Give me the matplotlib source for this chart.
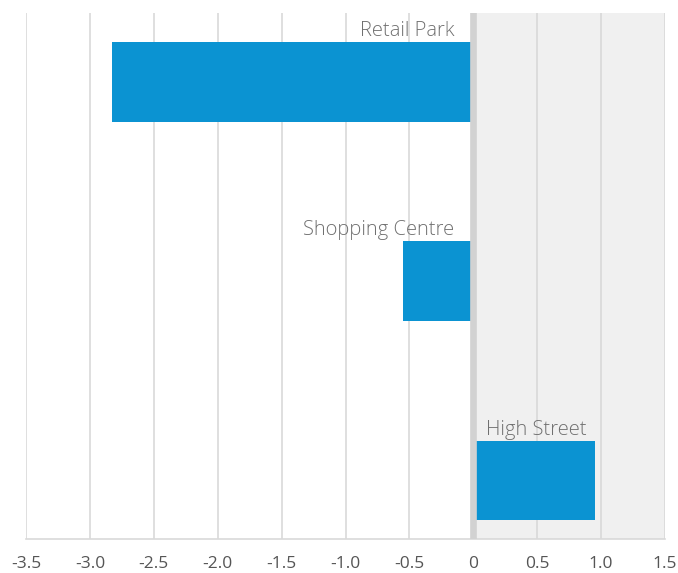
import matplotlib.pyplot as plt

# data
categories = ["Retail Park", "Shopping Centre", "High Street"]
values = [-2.83, -0.55, 0.95]
xticks = [-3.5, -3.0, -2.5, -2.0, -1.5, -1.0, -0.5, 0, 0.5, 1.0, 1.5]
xtick_labels = ["-3.5", "-3.0", "-2.5", "-2.0", "-1.5", "-1.0", "-0.5", "0", "0.5", "1.0", "1.5"]

plt.rcParams['font.family'] = ['Open Sans', 'DejaVu Sans']

fig = plt.figure(figsize=(6.78, 5.73), dpi=100)
ax = fig.add_axes([26 / 678, 34 / 573, 639 / 678, 526 / 573])

pos = list(range(len(categories)))
ax.axvspan(0, 1.5, color='#f0f0f0', zorder=0, lw=0)
ax.barh(pos, values, height=0.4, color='#0b93d2', zorder=2)
ax.axvline(0, color='#d2d2d2', lw=4.8, zorder=3)

for p, v, name in zip(pos, values, categories):
    top = p - 0.2
    if v < 0:
        ax.annotate(name, (0, top), xytext=(-19, 6), textcoords='offset pixels',
                    ha='right', va='baseline', fontsize=14.5, color='#707070',
                    fontweight='light')
    else:
        ax.annotate(name, (0, top), xytext=(13, 6), textcoords='offset pixels',
                    ha='left', va='baseline', fontsize=14.5, color='#707070',
                    fontweight='light')

ax.set_xlim(-3.5, 1.5)
ax.set_ylim(2.294, -0.347)
ax.set_xticks(xticks)
ax.set_xticklabels(xtick_labels, fontsize=12.5, color='#555555')
ax.set_yticks([])
ax.tick_params(axis='x', length=0, pad=12.5)
ax.grid(axis='x', color='#d9d9d9', lw=1.2, zorder=1)
ax.set_axisbelow(True)
for s in ['top', 'left', 'right']:
    ax.spines[s].set_visible(False)
ax.spines['bottom'].set_color('#d9d9d9')
ax.spines['bottom'].set_linewidth(1.2)

fig.savefig("out.png", dpi=100)
